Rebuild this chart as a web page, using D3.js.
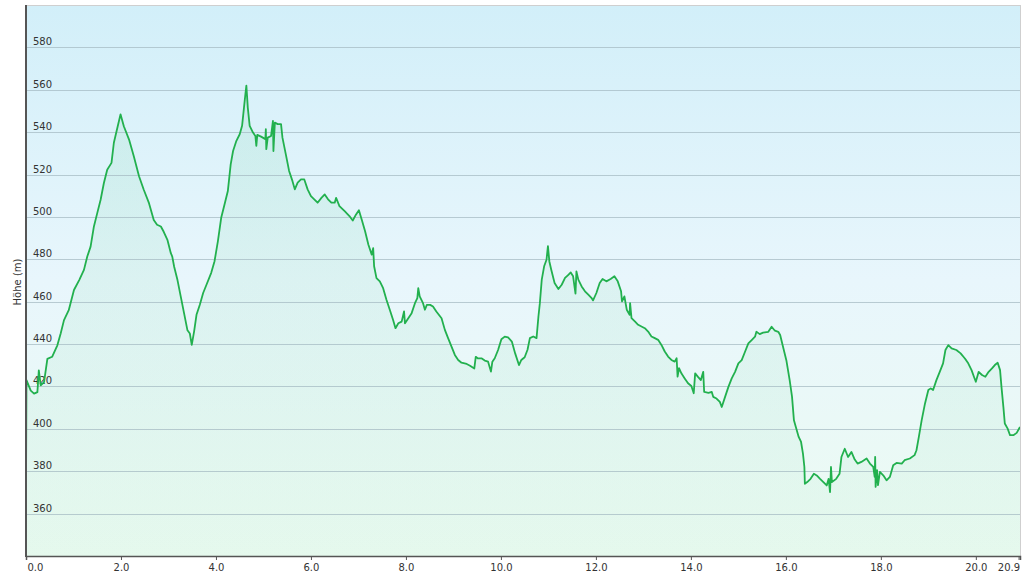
<!DOCTYPE html>
<html><head><meta charset="utf-8">
<script src="https://cdn.jsdelivr.net/npm/d3@7"></script>
<style>html,body{margin:0;padding:0;background:#fff;}svg{display:block;font-family:"DejaVu Sans",Verdana,sans-serif;}</style>
</head><body>
<svg id="chart" width="1024" height="580"></svg>
<script>
const distKm = [0,0.01,0.1,0.17,0.24,0.27,0.31,0.38,0.45,0.55,0.66,0.73,0.8,0.9,1.01,1.12,1.22,1.29,1.36,1.43,1.5,1.57,1.64,1.71,1.8,1.85,1.94,1.99,2.06,2.17,2.27,2.38,2.48,2.59,2.69,2.76,2.84,2.9,2.98,3.05,3.08,3.12,3.19,3.26,3.33,3.4,3.45,3.49,3.54,3.59,3.66,3.73,3.8,3.9,3.97,4.04,4.11,4.18,4.25,4.31,4.36,4.43,4.5,4.55,4.59,4.62,4.64,4.67,4.71,4.78,4.83,4.85,4.87,4.95,5.04,5.05,5.06,5.09,5.16,5.2,5.21,5.24,5.3,5.37,5.4,5.47,5.54,5.61,5.66,5.72,5.79,5.86,5.93,6.0,6.07,6.14,6.22,6.29,6.36,6.43,6.5,6.53,6.6,6.71,6.81,6.88,6.95,7.01,7.07,7.14,7.21,7.28,7.31,7.33,7.38,7.45,7.52,7.59,7.66,7.73,7.78,7.84,7.91,7.96,7.98,8.05,8.12,8.19,8.24,8.26,8.29,8.36,8.4,8.44,8.51,8.57,8.64,8.75,8.82,8.89,8.96,9.03,9.1,9.17,9.28,9.35,9.44,9.47,9.51,9.59,9.66,9.73,9.79,9.82,9.87,9.94,10.01,10.08,10.15,10.23,10.3,10.38,10.43,10.5,10.56,10.61,10.68,10.75,10.79,10.82,10.86,10.91,10.96,10.99,11.02,11.06,11.13,11.21,11.28,11.35,11.42,11.47,11.52,11.57,11.59,11.63,11.7,11.77,11.84,11.91,11.94,12.01,12.08,12.14,12.22,12.31,12.39,12.46,12.53,12.55,12.6,12.65,12.71,12.72,12.75,12.82,12.89,12.96,13.03,13.1,13.17,13.24,13.31,13.38,13.45,13.52,13.59,13.66,13.7,13.72,13.75,13.8,13.87,13.94,14.01,14.06,14.09,14.15,14.21,14.26,14.28,14.37,14.44,14.47,14.54,14.61,14.65,14.72,14.79,14.86,14.93,15.0,15.07,15.14,15.21,15.28,15.35,15.38,15.45,15.52,15.63,15.7,15.77,15.84,15.88,15.94,16.01,16.08,16.13,16.17,16.21,16.27,16.32,16.36,16.39,16.4,16.45,16.52,16.59,16.65,16.72,16.79,16.86,16.9,16.93,16.95,16.97,17.06,17.13,17.17,17.24,17.31,17.38,17.45,17.51,17.59,17.7,17.77,17.84,17.87,17.88,17.89,17.92,17.94,17.98,18.05,18.12,18.19,18.26,18.33,18.44,18.5,18.61,18.71,18.75,18.8,18.86,18.93,19.0,19.05,19.1,19.17,19.24,19.31,19.36,19.42,19.49,19.59,19.68,19.77,19.84,19.91,19.96,20.0,20.06,20.13,20.2,20.27,20.34,20.4,20.46,20.51,20.54,20.58,20.61,20.67,20.72,20.79,20.86,20.93];
const elevM = [372,423,418,416.6,417.3,427.6,420.5,422,433,434,439.4,445,451.3,456,465.5,470.2,475,481.3,486,495.5,501.8,508,516,522.3,525.5,535,543.6,548.4,542.8,536.5,528.6,519.2,512.8,506.5,498.6,496.3,495.5,493,489,482.9,481.3,476.5,470.2,462.3,454.4,446.5,445,439.6,446,453.8,458.6,464.1,468,473.6,479.1,488.5,499.6,505.9,512.2,524.8,531.1,535.9,539,543,551.6,558,562,551.6,543,539.8,538.2,533.5,538.7,537.9,536.7,541.4,532,537.4,538.2,545.3,531.1,544.5,543.8,543.8,537.4,529.6,521.7,517,513,516.2,517.7,517.7,513,509.8,508.3,506.7,509,510.6,508.3,506.7,506.7,509,505.1,502.7,500.4,498.3,501.2,503.2,498.7,493.2,486.9,482.2,485.3,476.7,471.1,469.6,466.4,460.9,456.2,451.4,447.5,449.8,450.6,455.4,449.8,452.2,454.6,459.3,461.7,466.4,462.5,459.3,456.2,458.5,458.5,457.7,455.4,452.2,446.7,442.7,438.8,434.9,432.5,431.2,430.6,429.8,428.5,434,433.3,433.3,432.2,431.7,427,431.7,433.3,437.2,442.3,443.5,443.2,441.2,435.6,430.1,432.5,433.8,437.3,442.8,443.6,442.8,453,459.3,470.4,476.7,479.8,486.2,479,475.1,468.8,466,468,471.2,472.7,473.8,472,463.8,474.3,470.4,467.2,464.9,463.3,461.7,460.6,464.1,468.8,470.7,469.6,470.7,472,469.6,464.9,460.1,462.5,456.2,453.8,459.3,452.2,450.7,449.1,448.3,447.5,445.9,443.6,442.8,442,439.6,436.5,434.1,432.5,431.7,433.3,424.6,428.6,426.2,423.8,421.5,420.2,416.8,426.2,424.5,423,426.9,417.4,417,417.4,415.1,414.3,412.7,410.3,415.1,419.8,423.8,426.9,430.9,432.4,436.4,440.3,441.9,443.5,445.8,444.7,445.4,445.8,448.2,446.3,445.8,444.3,438.7,432.4,423,415.1,404,400.9,396.2,393.8,388.3,382,374.1,374.9,376.4,378.8,378,376.4,374.9,373.3,376.4,370.1,382,374.9,376.4,378.8,386.7,390.6,386.7,389.1,385.5,383.6,384.4,386,383.6,382,377.3,386.8,372.6,380.5,373.4,379.7,378.1,375.7,377.3,382.8,383.9,383.6,385.2,386,387.6,389.9,396.2,404.1,412,418.3,419.1,418.3,423,426.9,430.9,437.2,439.5,438,437.2,435.6,433.2,430.9,427.7,424.6,422.2,426.9,425.4,424.6,426.9,428.5,430.1,431.2,427.7,419.8,410.4,402.5,400.1,397,397,398.1,400.9];
const yTicks = [360,380,400,420,440,460,480,500,520,540,560,580];
const xTicks = [0,2,4,6,8,10,12,14,16,18,20,20.9];
const xTickLabels = ["0.0","2.0","4.0","6.0","8.0","10.0","12.0","14.0","16.0","18.0","20.0","20.9"];
const yTitle = "Höhe (m)";

const data = distKm.map((d,i)=>({d, e: elevM[i]}));
const L = 26, R = 1020, T = 5, B = 556;
const x = d3.scaleLinear().domain([0, 20.93]).range([L, R]);
const y = d3.scaleLinear().domain([340, 600]).range([B, T]);

const svg = d3.select("#chart");
const defs = svg.append("defs");
const bg = defs.append("linearGradient").attr("id","bg").attr("x1",0).attr("y1",0).attr("x2",0).attr("y2",1);
bg.append("stop").attr("offset","0%").attr("stop-color","#d2eff9");
bg.append("stop").attr("offset","50%").attr("stop-color","#e8f6fc");
bg.append("stop").attr("offset","100%").attr("stop-color","#ecfbf2");
const ag = defs.append("linearGradient").attr("id","ag").attr("x1",0).attr("y1",0).attr("x2",0).attr("y2",1);
ag.append("stop").attr("offset","0%").attr("stop-color","#3cc272").attr("stop-opacity",0.10);
ag.append("stop").attr("offset","100%").attr("stop-color","#3cc272").attr("stop-opacity",0.04);

svg.append("rect").attr("x",L).attr("y",T).attr("width",R-L).attr("height",B-T).attr("fill","url(#bg)");

// area
const area = d3.area().x(p=>x(p.d)).y0(y(340)).y1(p=>y(p.e));
svg.append("path").datum(data).attr("d",area).attr("fill","url(#ag)");

// grid
svg.append("g").selectAll("line").data(yTicks).join("line")
  .attr("x1",L).attr("x2",R).attr("y1",v=>Math.round(y(v))+0.5).attr("y2",v=>Math.round(y(v))+0.5)
  .attr("stroke","#a3b8c0").attr("stroke-opacity",0.7).attr("stroke-width",1);

// y labels
svg.append("g").selectAll("text").data(yTicks).join("text")
  .attr("x",33).attr("y",v=>Math.round(y(v))-2)
  .attr("font-size","10px").attr("fill","#333").text(v=>v);

// line
const line = d3.line().x(p=>x(p.d)).y(p=>y(p.e));
svg.append("path").datum(data).attr("d",line).attr("fill","none")
  .attr("stroke","#22b04e").attr("stroke-width",1.8).attr("stroke-linejoin","round");

// border
svg.append("line").attr("x1",L).attr("x2",R).attr("y1",T+0.5).attr("y2",T+0.5).attr("stroke","#cfcfcf");
svg.append("line").attr("x1",R+0.5).attr("x2",R+0.5).attr("y1",T).attr("y2",B).attr("stroke","#cfcfcf");
svg.append("line").attr("x1",L).attr("x2",L).attr("y1",T).attr("y2",B+1).attr("stroke","#555").attr("stroke-width",2);

// x axis
const xAxis = d3.axisBottom(x).tickValues(xTicks).tickSize(4).tickPadding(4)
  .tickFormat((v,i)=>xTickLabels[i]);
const gx = svg.append("g").attr("transform",`translate(0,${B})`).call(xAxis);
gx.select(".domain").attr("stroke","#555").attr("stroke-width",1.5);
gx.selectAll(".tick line").attr("stroke","#555");
gx.selectAll(".tick text").attr("font-size","10px").attr("fill","#333").attr("font-family","DejaVu Sans, Verdana, sans-serif")
  .attr("text-anchor",(v,i)=> i===0 ? "start" : (i===xTicks.length-1 ? "end" : "middle"))
  .attr("dx",(v,i)=> i===0 ? "1" : (i===xTicks.length-1 ? "1" : "0"));

// y title
svg.append("text").attr("transform","translate(21,282) rotate(-90)")
  .attr("text-anchor","middle").attr("font-size","10px").attr("fill","#333").text(yTitle);
</script>
</body></html>
